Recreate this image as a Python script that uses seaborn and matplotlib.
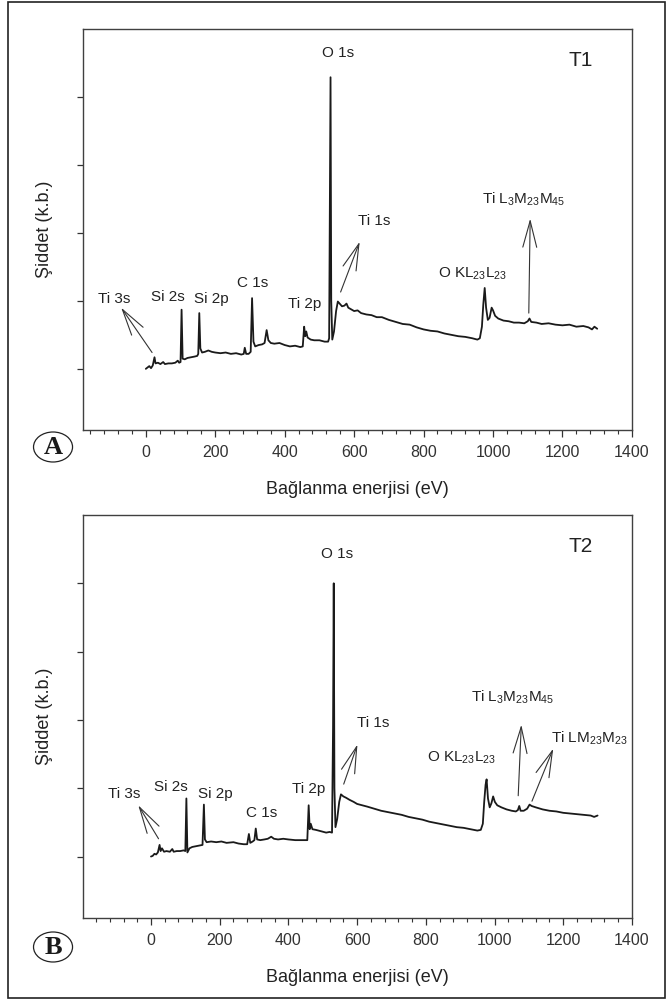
import numpy as np
import pandas as pd
import seaborn as sns
import matplotlib.pyplot as plt
from matplotlib.patches import Ellipse, Rectangle

# XPS survey spectra (arbitrary intensity units)
energy_t1 = [0, 5, 10, 15, 20, 25, 28, 35, 42, 50, 55, 65, 75, 85, 92, 96, 100, 103, 106, 112,
             120, 130, 140, 148, 151, 154, 157, 162, 170, 180, 190, 200, 215, 230, 245, 260, 275, 282, 285, 289,
             296, 302, 306, 310, 315, 325, 335, 342, 348, 353, 360, 370, 385, 400, 415, 430, 445, 452, 456, 459,
             462, 466, 475, 485, 500, 515, 525, 528, 530, 532, 534, 537, 542, 548, 553, 558, 565, 572, 578, 583,
             590, 600, 610, 620, 635, 650, 665, 680, 700, 720, 740, 760, 780, 800, 820, 840, 860, 880, 900, 920,
             940, 955, 962, 968, 972, 976, 980, 985, 990, 996, 1000, 1006, 1015, 1030, 1045, 1060, 1075, 1090, 1100, 1105,
             1110, 1125, 1140, 1160, 1180, 1200, 1220, 1240, 1260, 1275, 1285, 1292, 1300]
intensity_t1 = [1.00, 1.02, 1.04, 1.01, 1.05, 1.17, 1.08, 1.09, 1.07, 1.10, 1.07, 1.08, 1.08, 1.09, 1.12, 1.09, 1.10, 1.87, 1.15, 1.14,
                1.16, 1.17, 1.18, 1.19, 1.22, 1.82, 1.30, 1.24, 1.25, 1.27, 1.25, 1.24, 1.23, 1.24, 1.22, 1.23, 1.21, 1.22, 1.31, 1.22,
                1.22, 1.25, 2.04, 1.40, 1.33, 1.35, 1.36, 1.38, 1.57, 1.42, 1.38, 1.37, 1.38, 1.35, 1.33, 1.34, 1.32, 1.33, 1.62, 1.48,
                1.55, 1.46, 1.43, 1.42, 1.42, 1.40, 1.40, 1.45, 3.30, 5.29, 2.00, 1.43, 1.55, 1.85, 1.99, 1.96, 1.92, 1.93, 1.96, 1.90,
                1.88, 1.85, 1.86, 1.82, 1.80, 1.79, 1.76, 1.76, 1.72, 1.69, 1.66, 1.65, 1.61, 1.58, 1.56, 1.55, 1.52, 1.50, 1.48, 1.47,
                1.45, 1.43, 1.45, 1.62, 1.95, 2.19, 1.90, 1.72, 1.75, 1.90, 1.86, 1.78, 1.74, 1.71, 1.70, 1.68, 1.68, 1.67, 1.70, 1.74,
                1.69, 1.68, 1.66, 1.67, 1.65, 1.64, 1.65, 1.62, 1.63, 1.61, 1.58, 1.62, 1.59]

energy_t2 = [0, 5, 10, 15, 20, 25, 28, 32, 38, 45, 55, 62, 66, 75, 85, 95, 100, 103, 106, 112,
             120, 130, 140, 150, 154, 157, 162, 175, 190, 205, 220, 240, 255, 270, 280, 285, 289, 296, 301, 305,
             309, 318, 330, 340, 350, 358, 370, 385, 400, 420, 440, 455, 459, 462, 465, 470, 480, 495, 510, 520,
             527, 530, 532, 534, 537, 542, 548, 553, 560, 568, 578, 590, 600, 615, 630, 650, 670, 690, 710, 730,
             750, 770, 790, 810, 830, 850, 870, 890, 910, 930, 950, 960, 966, 970, 974, 977, 981, 986, 991, 996,
             1001, 1008, 1020, 1035, 1050, 1062, 1068, 1072, 1076, 1085, 1095, 1102, 1108, 1120, 1140, 1160, 1180, 1200, 1220, 1240,
             1260, 1280, 1290, 1300]
intensity_t2 = [1.00, 1.01, 1.04, 1.03, 1.06, 1.17, 1.08, 1.12, 1.07, 1.08, 1.07, 1.11, 1.07, 1.08, 1.08, 1.09, 1.08, 1.85, 1.06, 1.12,
                1.14, 1.15, 1.16, 1.17, 1.76, 1.25, 1.21, 1.22, 1.21, 1.22, 1.20, 1.21, 1.19, 1.18, 1.18, 1.33, 1.20, 1.22, 1.24, 1.41,
                1.25, 1.24, 1.25, 1.26, 1.29, 1.26, 1.25, 1.26, 1.25, 1.24, 1.24, 1.24, 1.75, 1.40, 1.48, 1.40, 1.39, 1.37, 1.35, 1.36,
                1.35, 2.90, 5.00, 2.00, 1.43, 1.55, 1.80, 1.91, 1.88, 1.86, 1.83, 1.80, 1.77, 1.75, 1.73, 1.70, 1.67, 1.65, 1.63, 1.61,
                1.58, 1.56, 1.54, 1.51, 1.49, 1.47, 1.45, 1.43, 1.42, 1.40, 1.38, 1.39, 1.48, 1.80, 2.05, 2.13, 1.85, 1.72, 1.78, 1.88,
                1.80, 1.75, 1.72, 1.69, 1.67, 1.66, 1.68, 1.74, 1.67, 1.67, 1.70, 1.76, 1.74, 1.72, 1.69, 1.67, 1.66, 1.64, 1.63, 1.62,
                1.61, 1.60, 1.58, 1.60]

# peak labels: (text, x, y)
labels_t1 = [('Ti 3s', -90, 2.03), ('Si 2s', 64, 2.05), ('Si 2p', 189, 2.03), ('C 1s', 309, 2.27),
             ('Ti 2p', 456, 1.95), ('O 1s', 555, 5.65), ('Ti 1s', 659, 3.18),
             ('O KL$_{23}$L$_{23}$', 941, 2.40), ('Ti L$_3$M$_{23}$M$_{45}$', 1088, 3.50)]
labels_t2 = [('Ti 3s', -78, 1.91), ('Si 2s', 58, 2.02), ('Si 2p', 186, 1.91), ('C 1s', 322, 1.63),
             ('Ti 2p', 458, 1.99), ('O 1s', 543, 5.43), ('Ti 1s', 648, 2.95),
             ('O KL$_{23}$L$_{23}$', 904, 2.44), ('Ti L$_3$M$_{23}$M$_{45}$', 1053, 3.33),
             ('Ti LM$_{23}$M$_{23}$', 1276, 2.73)]
# arrows: (head x, head y, tail x, tail y)
arrows_t1 = [(-71, 1.90, 18, 1.24), (616, 2.87, 561, 2.13), (1107, 3.21, 1103, 1.82)]
arrows_t2 = [(-37, 1.75, 22, 1.26), (601, 2.64, 561, 2.06), (1078, 2.93, 1069, 1.89), (1171, 2.58, 1109, 1.81)]

sns.set_style('ticks')
plt.rcParams['font.family'] = ['Liberation Sans', 'DejaVu Sans']
plt.rcParams['mathtext.fontset'] = 'custom'
plt.rcParams['mathtext.rm'] = 'Liberation Sans'
plt.rcParams['mathtext.it'] = 'Liberation Sans'
plt.rcParams['mathtext.default'] = 'regular'

fig = plt.figure(figsize=(6.67, 10), dpi=100)
ax1 = fig.add_axes([0.1244, 0.570, 0.823, 0.401])
ax2 = fig.add_axes([0.1244, 0.082, 0.823, 0.403])

panels = [(ax1, energy_t1, intensity_t1, labels_t1, arrows_t1, 'T1', (-181, 1400), 'A', 0.553),
          (ax2, energy_t2, intensity_t2, labels_t2, arrows_t2, 'T2', (-198, 1400), 'B', 0.053)]

for ax, en, inten, labels, arrows, tag, xlim, letter, ly in panels:
    df = pd.DataFrame({'E': en, 'I': inten})
    sns.lineplot(data=df, x='E', y='I', ax=ax, color='#1a1a1a', linewidth=1.3)
    ax.set_xlim(*xlim)
    ax.set_ylim(0.1, 6.0)
    ax.set_xticks(np.arange(0, 1401, 200))
    ax.set_xticks(np.arange(-160, 1401, 40), minor=True)
    ax.set_yticks([1, 2, 3, 4, 5])
    ax.set_yticklabels([])
    ax.tick_params(axis='x', which='major', length=5, width=0.9, labelsize=11.5, colors='#333333', pad=6)
    ax.tick_params(axis='x', which='minor', length=3, width=0.8, colors='#333333')
    ax.tick_params(axis='y', length=4, width=0.9, colors='#333333')
    for s in ax.spines.values():
        s.set_color('#404040')
        s.set_linewidth(1.0)
    ax.set_xlabel('Bağlanma enerjisi (eV)', fontsize=13, color='#222222', labelpad=15)
    ax.set_ylabel('Şiddet (k.b.)', fontsize=13, color='#222222', labelpad=14)

    for txt, x, y in labels:
        ax.text(x, y, txt, fontsize=11, color='#222222', ha='center', va='center')
    for hx, hy, tx, ty in arrows:
        ax.annotate('', xy=(hx, hy), xytext=(tx, ty),
                    arrowprops=dict(arrowstyle='->,head_length=1.9,head_width=0.5', color='#333333',
                                    lw=0.8, shrinkA=0, shrinkB=0, mutation_scale=10))
    ax.text(1252, 5.54, tag, fontsize=15, color='#222222', ha='center', va='center')

    fig.patches.append(Ellipse((0.0795, ly), 0.0585, 0.030, transform=fig.transFigure,
                               fill=False, edgecolor='#222222', linewidth=0.9))
    fig.text(0.0795, ly - 0.001, letter, fontsize=19, fontweight='bold', family='Liberation Serif',
             ha='center', va='center', color='#1a1a1a')

fig.patches.append(Rectangle((8 / 667, 0.002), 657 / 667, 0.996, transform=fig.transFigure,
                             fill=False, edgecolor='#222222', linewidth=1.2))

fig.savefig('out.png', dpi=100)
